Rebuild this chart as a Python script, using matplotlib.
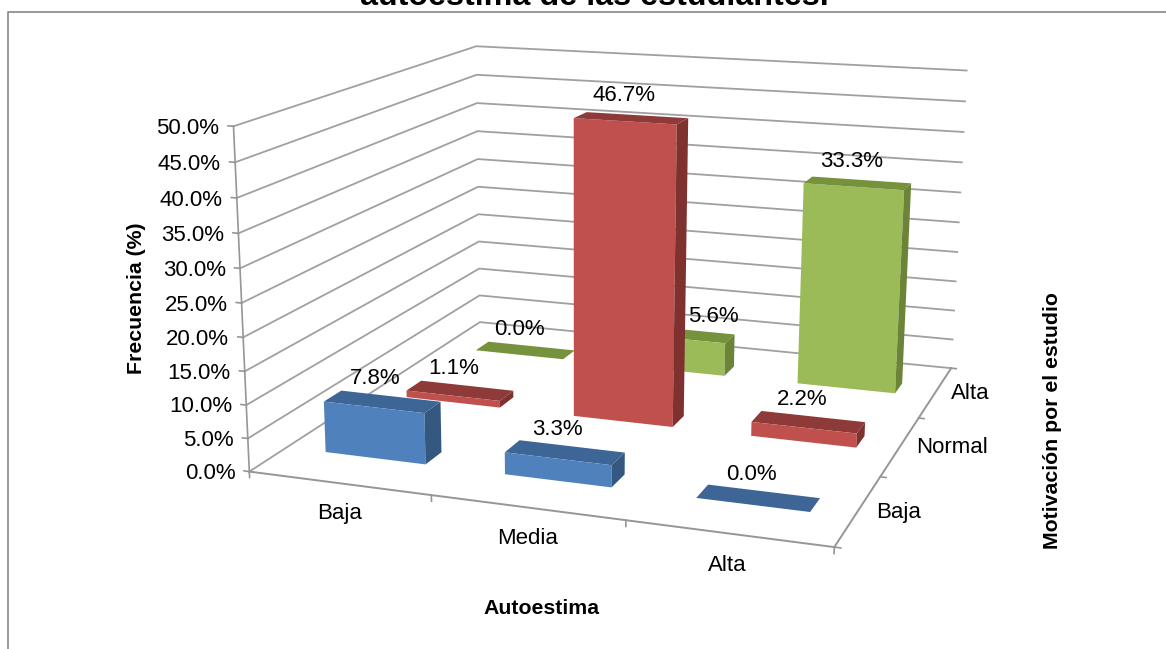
import numpy as np
import matplotlib
matplotlib.use('Agg')
import matplotlib.pyplot as plt
from matplotlib.lines import Line2D

plt.rcParams['font.family'] = ['Liberation Sans', 'DejaVu Sans']

autoestima = ['Baja', 'Media', 'Alta']
motivacion = ['Baja', 'Normal', 'Alta']
valores_baja = [7.8, 3.3, 0.0]
valores_normal = [1.1, 46.7, 2.2]
valores_alta = [0.0, 5.6, 33.3]
z_ticks = [0, 5, 10, 15, 20, 25, 30, 35, 40, 45, 50]

W, H = 1166, 649
BAR_W = 0.565
BAR_D = 0.20
FS = 16
FS_TITLE = 15.3

# Excel 3D view: box corners (x, y, z) and where they land in the picture
box_corners = [(0, 0, 0), (3, 0, 0), (3, 3, 0), (0, 3, 0),
               (0, 0, 50), (3, 3, 50), (0, 3, 50)]
pix_corners = [(251, 471), (834, 548), (952, 367), (478, 323),
               (232, 126), (966, 71), (478, 46)]


def fit_camera(world, pix):
    rows = []
    for (x, y, z), (u, v) in zip(world, pix):
        rows.append([x, y, z, 1, 0, 0, 0, 0, -u*x, -u*y, -u*z, -u])
        rows.append([0, 0, 0, 0, x, y, z, 1, -v*x, -v*y, -v*z, -v])
    _, _, vt = np.linalg.svd(np.array(rows, dtype=float))
    P = vt[-1].reshape(3, 4)
    return P / (P[2] @ np.array([1.5, 1.5, 25, 1]))


camera = fit_camera(box_corners, pix_corners)

fig = plt.figure(figsize=(W/100, H/100), dpi=100)
side = W / H
ax = fig.add_axes([0, (1 - side)/2, 1, side], projection='3d')
ax.set_axis_off()
ax.computed_zorder = False


def chart_proj():
    flip = np.array([[1, 0, 0], [0, -1, H], [0, 0, 1]], dtype=float)
    P = ax.transData.inverted().get_matrix() @ flip @ camera
    return np.vstack([P[0], P[1], [0, 0, 0, -1], P[2]])


ax.get_proj = chart_proj

grid_color = '#a0a0a0'
axis_color = '#969696'
for z in z_ticks:
    ax.plot([0, 0, 3], [0, 3, 3], [z, z, z], color=grid_color, lw=1.3, zorder=1)
    ax.plot([-0.03, 0], [0, 0], [z, z], color=axis_color, lw=1.2, zorder=1)
    ax.text(-0.08, 0, z - 0.5, f'{z:.1f}%', ha='right', va='center', fontsize=FS, zorder=20)

ax.plot([0, 0], [0, 0], [0, 50], color=axis_color, lw=1.2, zorder=1)
ax.plot([0, 3], [0, 0], [0, 0], color=axis_color, lw=1.4, zorder=1)
ax.plot([3, 3], [0, 3], [0, 0], color=axis_color, lw=1.4, zorder=1)
for i in range(4):
    ax.plot([i, i], [0, 0], [0, -0.9], color=axis_color, lw=1.2, zorder=1)
    ax.plot([3, 3.03], [i, i], [0, 0], color=axis_color, lw=1.2, zorder=1)

for i, name in enumerate(autoestima):
    ax.text(i + 0.5, 0, -4.6, name, ha='center', va='center', fontsize=FS, zorder=20)
for i, name in enumerate(motivacion):
    ax.text(3.085, i + 0.5, 0.0, name, ha='left', va='center', fontsize=FS, zorder=20)

# front, top, side colours per series
estilos = [('#4f81bd', '#3d6596', '#34587f'),
           ('#c0504d', '#8e3a38', '#7e312f'),
           ('#9bbb59', '#76923c', '#6b8437')]
series = [valores_baja, valores_normal, valores_alta]

order = 2
for j in [2, 1, 0]:
    front, top, lado = estilos[j]
    for i, h in enumerate(series[j]):
        # bar3d face order: bottom, top, front, back, left, right
        caras = ['none', top, front, 'none', 'none', lado]
        ax.bar3d(i + 0.507 - BAR_W/2, j + 0.5 - BAR_D/2, 0, BAR_W, BAR_D, h,
                 color=caras, shade=False, edgecolor='none', zorder=order)
        # Excel pushed the 5.6% label off to the right of the red bar
        dx = 0.22 if h == 5.6 else 0.0
        ax.text(i + 0.47 + dx, j + 0.5, h + 1.8, f'{h:.1f}%', ha='center', va='bottom',
                fontsize=FS, zorder=20)
        order += 1

fig.text(594/W, 1 - 5/H, 'autoestima de las estudiantes.', ha='center', va='baseline',
         fontsize=23.2, fontweight='bold')
fig.text(542/W, 1 - 608/H, 'Autoestima', ha='center', va='center', fontsize=FS_TITLE, fontweight='bold')
fig.text(136/W, 1 - 298/H, 'Frecuencia (%)', ha='center', va='center', rotation=90,
         fontsize=FS_TITLE, fontweight='bold')
fig.text(1052/W, 1 - 421/H, 'Motivación por el estudio', ha='center', va='center', rotation=90,
         fontsize=FS_TITLE, fontweight='bold')

frame = Line2D([8/W, 8/W, 1], [0, 1 - 12/H, 1 - 12/H], transform=fig.transFigure,
               color='#868686', lw=1.2, zorder=5)
fig.add_artist(frame)

fig.savefig('out.png', dpi=100)
